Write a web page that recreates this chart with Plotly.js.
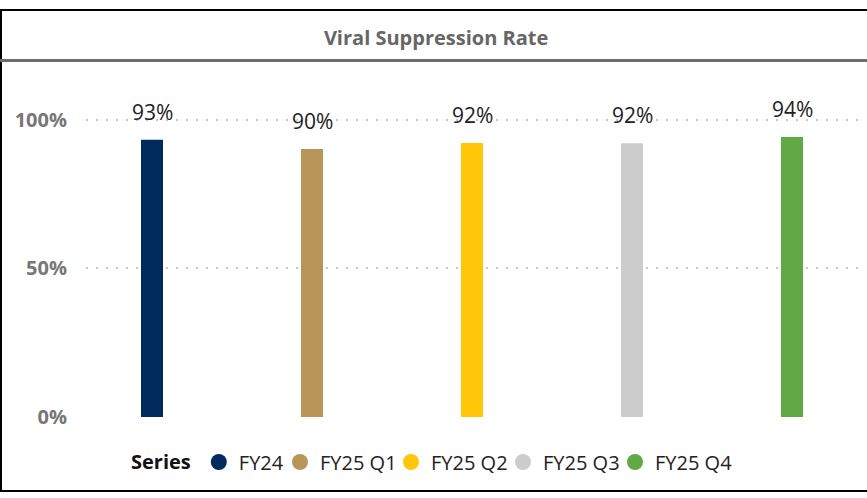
<!DOCTYPE html>
<html>
<head>
<meta charset="utf-8">
<script src="https://cdn.plot.ly/plotly-3.0.1.min.js"></script>
<style>
  html, body { margin: 0; padding: 0; background: #fff; }
  #wrap { position: relative; width: 867px; height: 498px; overflow: hidden; }
  #chart { position: absolute; left: 0; top: 0; width: 867px; height: 498px; }
  #frame { position: absolute; left: 0; top: 9px; width: 880px; height: 483px; border: 2px solid #000; box-sizing: border-box; pointer-events: none; }
  #band { position: absolute; left: 0; top: 59px; width: 867px; height: 3px; background: #6b6b6b; pointer-events: none; }
</style>
</head>
<body>
<div id="wrap">
  <div id="chart"></div>
  <div id="frame"></div>
  <div id="band"></div>
</div>
<script>
// ---- data ----
const categories = ["FY24", "FY25 Q1", "FY25 Q2", "FY25 Q3", "FY25 Q4"];
const values = [0.933, 0.902, 0.922, 0.921, 0.942];
const colors = ["#002B5C", "#B8965A", "#FFC60A", "#CCCCCC", "#62A845"];
const yTickValues = [0, 0.5, 1];
const yTickLabels = ["0%", "50%", "100%"];

const FONT = '"Segoe UI", "Open Sans", "Noto Sans", sans-serif';

// plot area geometry (pixels)
const PL = 86, PR = 5, PT = 105, PB = 80, W = 867, H = 498;
const PW = W - PL - PR, PH = H - PT - PB;
const pxToPaperX = px => (px - PL) / PW;
const pxToPaperY = py => (H - PB - py) / PH;

// left edges (px) of each legend box, and legend row centre
const legendLeft = [129, 280, 391, 503, 615];
const legendRowY = 462;
const legendIds = ["legend", "legend2", "legend3", "legend4", "legend5"];

const traces = [];
categories.forEach((c, i) => {
  traces.push({
    type: "bar",
    x: [c],
    y: [values[i]],
    name: c,
    legendgroup: c,
    showlegend: false,
    width: 0.1375,
    marker: { color: colors[i], line: { width: 0 } },
    hoverinfo: "x+y"
  });
});
categories.forEach((c, i) => {
  traces.push({
    type: "scatter",
    mode: "markers",
    x: [null],
    y: [null],
    name: c,
    legendgroup: c,
    legend: legendIds[i],
    showlegend: true,
    marker: { color: colors[i], size: 20, symbol: "circle" }
  });
});

const annotations = categories.map((c, i) => ({
  x: c,
  y: values[i],
  xref: "x",
  yref: "y",
  text: Math.round(values[i] * 100) + "%",
  showarrow: false,
  yanchor: "bottom",
  yshift: 12,
  font: { family: FONT, size: 21, color: "#222" }
}));

const layout = {
  width: W,
  height: H,
  paper_bgcolor: "#fff",
  plot_bgcolor: "#fff",
  margin: { l: PL, r: PR, t: PT, b: PB },
  title: {
    text: "Viral Suppression Rate",
    font: { family: FONT, size: 20, color: "#666", weight: "bold" },
    x: 0.503, xref: "container", xanchor: "center",
    y: 1 - 38 / H, yref: "container", yanchor: "middle"
  },
  barmode: "overlay",
  xaxis: {
    type: "category",
    categoryorder: "array",
    categoryarray: categories,
    range: [-0.4125, 4.4375],
    showticklabels: false,
    showgrid: false,
    zeroline: false,
    showline: false,
    ticks: "",
    fixedrange: true
  },
  yaxis: {
    range: [-0.003, 1.05],
    tickvals: yTickValues,
    ticktext: yTickLabels,
    tickfont: { family: FONT, size: 20, color: "#777", weight: "bold" },
    ticks: "",
    ticklabelstandoff: 18,
    showgrid: true,
    gridcolor: "#c8c8c8",
    gridwidth: 2,
    griddash: "2px,8px",
    zeroline: false,
    showline: false,
    fixedrange: true
  },
  showlegend: true,
  annotations: annotations
};

legendIds.forEach((id, i) => {
  const lg = {
    orientation: "h",
    x: pxToPaperX(legendLeft[i]),
    xanchor: "left",
    y: pxToPaperY(legendRowY),
    yanchor: "middle",
    bgcolor: "rgba(0,0,0,0)",
    borderwidth: 0,
    font: { family: FONT, size: 20, color: "#222" },
    itemwidth: 30,
    itemclick: false,
    itemdoubleclick: false
  };
  if (i === 0) {
    lg.title = { text: "Series", side: "left", font: { family: FONT, size: 20, color: "#111", weight: "bold" } };
  }
  layout[id] = lg;
});

Plotly.newPlot("chart", traces, layout, { displayModeBar: false, staticPlot: true });
</script>
</body>
</html>
